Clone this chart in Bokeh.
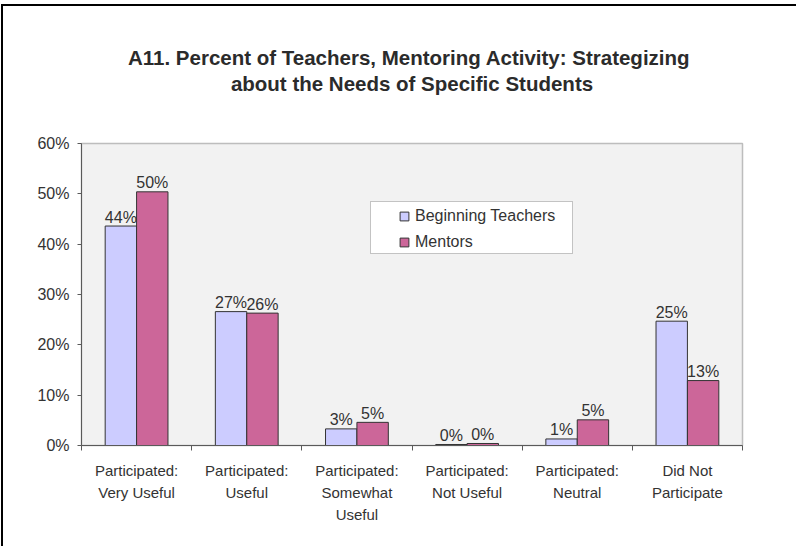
from bokeh.plotting import figure
from bokeh.models import (ColumnDataSource, Range1d, FixedTicker, NumeralTickFormatter,
                          Legend, LegendItem, LinearAxis, BoxAnnotation)
from bokeh.transform import dodge
from bokeh.core.properties import value
from bokeh.embed import file_html
from bokeh.resources import INLINE

# ---------------- data ----------------
categories = [
    "Participated:\nVery Useful",
    "Participated:\nUseful",
    "Participated:\nSomewhat\nUseful",
    "Participated:\nNot Useful",
    "Participated:\nNeutral",
    "Did Not\nParticipate",
]
series_names = ["Beginning Teachers", "Mentors"]
beginning = [0.436, 0.266, 0.033, 0.002, 0.013, 0.247]
mentors = [0.504, 0.263, 0.046, 0.004, 0.051, 0.129]
y_ticks = [0.0, 0.1, 0.2, 0.3, 0.4, 0.5, 0.6]
title_lines = [
    "A11.  Percent of Teachers, Mentoring Activity: Strategizing",
    "about the Needs of Specific Students",
]

FONT = "Liberation Sans"
TXT = "#333333"
C_BT = "#ccccff"
C_M = "#cc6699"

n = len(categories)
centers = [i + 0.5 for i in range(n)]          # category slot centres on the x scale
edges = list(range(n + 1))                      # category boundaries (tick marks)

# frame geometry (pixels)
FW, FH = 661, 302
X_MAX, Y_MAX = n, 0.6

src = ColumnDataSource(dict(
    x=centers,
    bt=beginning,
    m=mentors,
    bt_lbl=[f"{round(v * 100)}%" for v in beginning],
    m_lbl=[f"{round(v * 100)}%" for v in mentors],
))

p = figure(
    x_range=Range1d(0, X_MAX), y_range=Range1d(0, Y_MAX),
    width=793, height=540, output_backend="svg", toolbar_location=None,
    min_border_left=78, min_border_right=54, min_border_top=137, min_border_bottom=101,
)
p.styles = {"margin-left": "3px", "margin-top": "6px", "outline": "2px solid #000000"}
p.background_fill_color = "#f2f2f2"
p.border_fill_color = "white"
p.outline_line_color = "#bdbdbd"
p.outline_line_width = 1.5
p.grid.visible = False

# bottom x axis: labels at slot centres, tick marks at slot boundaries
xa = p.below[0]
xa.ticker = FixedTicker(ticks=centers, minor_ticks=edges)
xa.major_label_overrides = {c: lab for c, lab in zip(centers, categories)}
xa.major_tick_out = 0
xa.major_tick_in = 0
xa.minor_tick_out = 5
xa.minor_tick_in = 0
xa.axis_line_color = "#5a5a5a"
xa.minor_tick_line_color = "#5a5a5a"
xa.major_label_standoff = 11
xa.major_label_text_font = FONT
xa.major_label_text_font_size = "15px"
xa.major_label_text_color = TXT
xa.major_label_text_line_height = 1.3

# y axis
ya = p.left[0]
ya.ticker = FixedTicker(ticks=y_ticks)
ya.formatter = NumeralTickFormatter(format="0%")
ya.major_tick_out = 4
ya.major_tick_in = 0
ya.minor_tick_line_color = None
ya.axis_line_color = "#5a5a5a"
ya.major_tick_line_color = "#5a5a5a"
ya.major_label_standoff = 8
ya.major_label_text_font = FONT
ya.major_label_text_font_size = "16px"
ya.major_label_text_color = TXT

# title line 1 (plot title) and line 2 (label of a bare axis above the frame)
p.title.text = title_lines[0]
p.title.align = "center"
p.title.vertical_align = "bottom"
p.title.standoff = 0
p.title.text_font = FONT
p.title.text_font_style = "bold"
p.title.text_font_size = "20.5px"
p.title.text_color = "#2b2b2b"

sub = LinearAxis(
    ticker=FixedTicker(ticks=[]), axis_line_color=None,
    major_tick_line_color=None, minor_tick_line_color=None,
    major_tick_out=0, major_tick_in=0, minor_tick_out=0, minor_tick_in=0,
    major_label_text_font_size="0px", major_label_standoff=0,
    axis_label=title_lines[1], axis_label_standoff=49,
    axis_label_text_font=FONT, axis_label_text_font_style="bold",
    axis_label_text_font_size="20.5px", axis_label_text_color="#2b2b2b",
)
p.add_layout(sub, "above")

# bars
off = 0.1425
bw = 0.285
p.vbar(x=dodge("x", -off), top="bt", width=bw, source=src,
       fill_color=C_BT, line_color="#333333", line_width=1)
p.vbar(x=dodge("x", off), top="m", width=bw, source=src,
       fill_color=C_M, line_color="#333333", line_width=1)

# value labels
for col, lbl, dx in (("bt", "bt_lbl", -off), ("m", "m_lbl", off)):
    p.text(x=dodge("x", dx), y=col, text=lbl, source=src,
           text_align="center", text_baseline="alphabetic", y_offset=-9,
           text_font=value(FONT), text_font_size="16px", text_color=TXT)

# legend frame (pixel box relative to the plot frame, converted to axis units)
def fx(px):
    return px * X_MAX / FW

def fy(py):
    return py * Y_MAX / FH

p.add_layout(BoxAnnotation(left=fx(289), right=fx(491), bottom=fy(192), top=fy(244),
                           fill_color="white", fill_alpha=1.0,
                           line_color="#444444", line_width=1, level="annotation"))

# legend: square swatches from hidden marker renderers
lg1 = p.scatter(x="x", y="bt", source=src, marker="square", fill_color=C_BT,
                line_color="#333333", visible=False)
lg2 = p.scatter(x="x", y="m", source=src, marker="square", fill_color=C_M,
                line_color="#333333", visible=False)
legend = Legend(
    items=[LegendItem(label=series_names[0], renderers=[lg1]),
           LegendItem(label=series_names[1], renderers=[lg2])],
    location=(312, 192), orientation="vertical",
    padding=0, spacing=4, margin=0,
    glyph_width=22, glyph_height=22, label_standoff=0,
    label_text_font=FONT, label_text_font_size="16px", label_text_color=TXT,
    border_line_color=None, background_fill_alpha=0.0,
)
p.add_layout(legend)

open("out.html", "w").write(file_html(p, INLINE))
